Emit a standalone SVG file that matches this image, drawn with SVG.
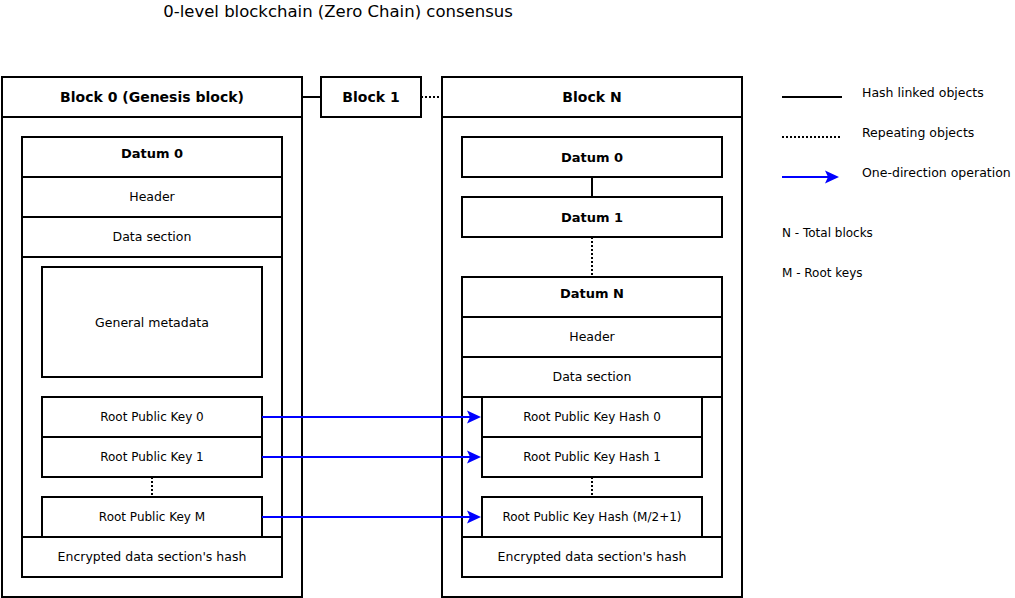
<svg xmlns="http://www.w3.org/2000/svg" width="1015" height="598" viewBox="0 0 1015 598">
<style>
rect{fill:#fff;stroke:#000;stroke-width:2}
line{stroke:#000;stroke-width:2}
.dot{stroke-dasharray:2 2}
.arr{stroke:#0000ff}
text{font-family:"DejaVu Sans","Liberation Sans",sans-serif;fill:#000;text-anchor:middle}
.t{font-size:16.5px}
.b14{font-size:14px;font-weight:bold}
.b13{font-size:13px;font-weight:bold}
.n{font-size:12.5px}
.s{font-size:12px}
.lg{font-size:12.5px;text-anchor:start}
.lg2{font-size:12px;text-anchor:start}
.ah{fill:#0000ff;stroke:none}
</style>
<defs>
<path id="head" class="ah" d="M0,0 L-14,-6.5 L-11,0 L-14,6.5 Z"/>
</defs>
<text class="t" x="338" y="17">0-level blockchain (Zero Chain) consensus</text>

<g id="block0">
<rect x="2" y="77" width="300" height="520"/>
<rect x="2" y="77" width="300" height="40"/>
<text class="b14" x="152" y="102">Block 0 (Genesis block)</text>
</g>
<g id="datum0-left">
<rect x="22" y="137" width="260" height="440"/>
<rect x="22" y="137" width="260" height="40"/>
<text class="b13" x="152" y="157.5">Datum 0</text>
<rect x="22" y="177" width="260" height="40"/>
<text class="n" x="152" y="201">Header</text>
<rect x="22" y="217" width="260" height="40"/>
<text class="n" x="152" y="241">Data section</text>
</g>
<g id="general-metadata">
<rect x="42" y="267" width="220" height="110"/>
<text class="n" x="152" y="326.5">General metadata</text>
</g>
<g id="rpk0"><rect x="42" y="397" width="220" height="40"/><text class="s" x="152" y="421.3">Root Public Key 0</text></g>
<g id="rpk1"><rect x="42" y="437" width="220" height="40"/><text class="s" x="152" y="461.3">Root Public Key 1</text></g>
<g id="rpkM"><rect x="42" y="497" width="220" height="40"/><text class="s" x="152" y="521.3">Root Public Key M</text></g>
<g id="enc-left"><rect x="22" y="537" width="260" height="40"/><text class="n" x="152" y="561">Encrypted data section's hash</text></g>

<g id="block1">
<rect x="321" y="77" width="100" height="40"/>
<text class="b14" x="371" y="102">Block 1</text>
</g>

<g id="blockN">
<rect x="442" y="77" width="300" height="520"/>
<rect x="442" y="77" width="300" height="40"/>
<text class="b14" x="592" y="102">Block N</text>
</g>
<g id="datum0-right"><rect x="462" y="137" width="260" height="40"/><text class="b13" x="592" y="161.5">Datum 0</text></g>
<g id="datum1-right"><rect x="462" y="197" width="260" height="40"/><text class="b13" x="592" y="221.5">Datum 1</text></g>
<g id="datumN">
<rect x="462" y="277" width="260" height="300"/>
<rect x="462" y="277" width="260" height="40"/>
<text class="b13" x="592" y="297.5">Datum N</text>
<rect x="462" y="317" width="260" height="40"/>
<text class="n" x="592" y="341">Header</text>
<rect x="462" y="357" width="260" height="40"/>
<text class="n" x="592" y="381">Data section</text>
</g>
<g id="rpkh0"><rect x="482" y="397" width="220" height="40"/><text class="s" x="592" y="421.3">Root Public Key Hash 0</text></g>
<g id="rpkh1"><rect x="482" y="437" width="220" height="40"/><text class="s" x="592" y="461.3">Root Public Key Hash 1</text></g>
<g id="rpkhM"><rect x="482" y="497" width="220" height="40"/><text class="s" x="592" y="521.3">Root Public Key Hash (M/2+1)</text></g>
<g id="enc-right"><rect x="462" y="537" width="260" height="40"/><text class="n" x="592" y="561">Encrypted data section's hash</text></g>

<g id="connectors">
<line x1="302" y1="97" x2="321" y2="97"/>
<line class="dot" x1="421" y1="97" x2="442" y2="97"/>
<line x1="592" y1="177" x2="592" y2="197"/>
<line class="dot" x1="592" y1="237" x2="592" y2="277"/>
<line class="dot" x1="152" y1="477" x2="152" y2="497"/>
<line class="dot" x1="592" y1="477" x2="592" y2="497"/>
<line class="arr" x1="262" y1="417" x2="472" y2="417"/>
<use href="#head" x="481" y="417"/>
<line class="arr" x1="262" y1="457" x2="472" y2="457"/>
<use href="#head" x="481" y="457"/>
<line class="arr" x1="262" y1="517" x2="472" y2="517"/>
<use href="#head" x="481" y="517"/>
</g>

<g id="legend">
<line x1="782" y1="97" x2="842" y2="97"/>
<text class="lg" x="862" y="97">Hash linked objects</text>
<line class="dot" x1="782" y1="137" x2="842" y2="137"/>
<text class="lg" x="862" y="137">Repeating objects</text>
<line class="arr" x1="782" y1="177" x2="830" y2="177"/>
<use href="#head" x="839" y="177"/>
<text class="lg" x="862" y="177">One-direction operation</text>
<text class="lg2" x="782" y="237">N - Total blocks</text>
<text class="lg2" x="782" y="277">M - Root keys</text>
</g>
</svg>
